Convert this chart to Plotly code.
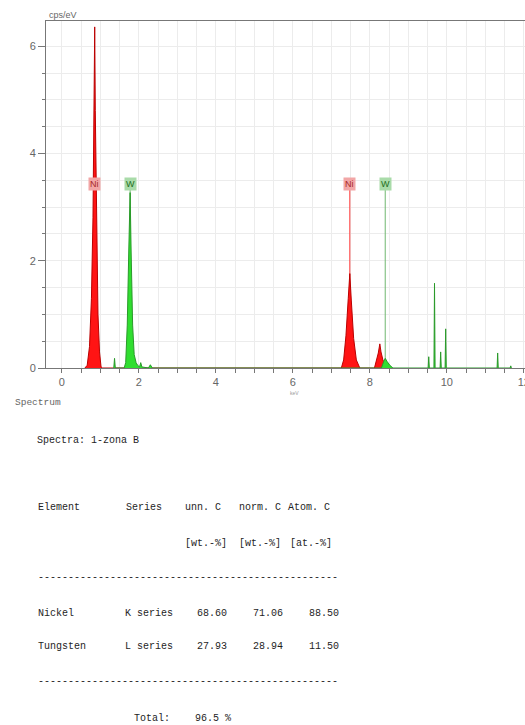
import plotly.graph_objects as go

# ---------------- data ----------------
ni_energy = [0.60, 0.66, 0.72, 0.77, 0.81, 0.84, 0.855, 0.87, 0.90, 0.94, 0.98, 1.02, 1.06,
             7.26, 7.32, 7.38, 7.44, 7.48, 7.52, 7.58, 7.65, 7.74,
             8.12, 8.17, 8.22, 8.26, 8.29, 8.34, 8.42, 8.48]
ni_counts = [0.0, 0.05, 0.40, 1.30, 2.80, 4.80, 6.36, 4.80, 2.60, 1.00, 0.30, 0.02, 0.0,
             0.0, 0.15, 0.60, 1.30, 1.76, 1.25, 0.55, 0.15, 0.0,
             0.0, 0.12, 0.28, 0.45, 0.30, 0.15, 0.04, 0.0]

w_energy = [1.35, 1.37, 1.39,
            1.62, 1.66, 1.70, 1.74, 1.775, 1.80, 1.84, 1.88, 1.93, 1.97, 2.02, 2.05, 2.08, 2.25, 2.30, 2.35,
            8.30, 8.36, 8.40, 8.45, 8.52, 8.60,
            9.515, 9.53, 9.545, 9.665, 9.68, 9.695, 9.825, 9.84, 9.855, 9.955, 9.97, 9.985,
            11.305, 11.32, 11.335, 11.645, 11.66, 11.675]
w_counts = [0.0, 0.18, 0.0,
            0.0, 0.10, 0.80, 2.20, 3.27, 2.20, 0.80, 0.25, 0.10, 0.05, 0.02, 0.10, 0.02, 0.0, 0.06, 0.0,
            0.0, 0.12, 0.18, 0.12, 0.05, 0.0,
            0.0, 0.21, 0.0, 0.0, 1.58, 0.0, 0.0, 0.30, 0.0, 0.0, 0.73, 0.0,
            0.0, 0.28, 0.0, 0.0, 0.04, 0.0]

label_names = ["Ni", "W", "Ni", "W"]
label_energy = [0.855, 1.775, 7.48, 8.40]
label_height = 3.44

x_ticks = [0, 2, 4, 6, 8, 10, 12]
y_ticks = [0, 2, 4, 6]

spectrum_title = "Spectra: 1-zona B"
hdr1 = ["Element", "Series", "unn. C", "norm. C", "Atom. C"]
hdr2 = ["[wt.-%]", "[wt.-%]", "[at.-%]"]
elements = ["Nickel", "Tungsten"]
series = ["K series", "L series"]
unn_c = [68.60, 27.93]
norm_c = [71.06, 28.94]
atom_c = [88.50, 11.50]
total = 96.5

# ---------------- style ----------------
W_PX, H_PX = 525, 725
L, R, T, B = 46, 0, 21, 357.4
plot_w = W_PX - L - R
plot_h = H_PX - T - B

def px(x):
    return (x - L) / plot_w

def py(y):
    return (H_PX - B - y) / plot_h

col = {"Ni": dict(line="#bb0000", fill="#ff1414", lab_bg="#f2a6a6", lab_fg="#a82828", mark="#ff3b3b"),
       "W": dict(line="#2a9a2a", fill="#30de30", lab_bg="#a9dba9", lab_fg="#1e6e1e", mark="#6fb86f")}

fig = go.Figure()

# label marker lines (beneath the peaks)
for name, e in zip(label_names, label_energy):
    fig.add_trace(go.Scatter(x=[e, e], y=[0, label_height - 0.12], mode="lines",
                             line=dict(color=col[name]["mark"], width=1),
                             hoverinfo="skip", showlegend=False))

fig.add_trace(go.Scatter(x=ni_energy, y=ni_counts, mode="lines", fill="tozeroy",
                         line=dict(color=col["Ni"]["line"], width=1),
                         fillcolor=col["Ni"]["fill"], showlegend=False))
fig.add_trace(go.Scatter(x=w_energy, y=w_counts, mode="lines", fill="tozeroy",
                         line=dict(color=col["W"]["line"], width=1),
                         fillcolor=col["W"]["fill"], showlegend=False))

annotations = []
for name, e in zip(label_names, label_energy):
    annotations.append(dict(x=e, y=label_height, xref="x", yref="y", text=name,
                            showarrow=False, bgcolor=col[name]["lab_bg"],
                            font=dict(family="Liberation Sans, Arial", size=9, color=col[name]["lab_fg"]),
                            borderpad=1))

grey = "#666666"
annotations.append(dict(x=px(47), y=py(15), xref="paper", yref="paper", text="cps/eV",
                        xanchor="left", yanchor="middle", showarrow=False,
                        font=dict(family="Liberation Sans, Arial", size=9, color=grey)))
annotations.append(dict(x=px(13), y=py(402), xref="paper", yref="paper", text="Spectrum",
                        xanchor="left", yanchor="middle", showarrow=False,
                        font=dict(family="Liberation Mono, monospace", size=9.5, color=grey)))
annotations.append(dict(x=px(294), y=py(393), xref="paper", yref="paper", text="keV",
                        xanchor="center", yanchor="middle", showarrow=False,
                        font=dict(family="Liberation Sans, Arial", size=5, color="#999999")))

mono = dict(family="Liberation Mono, Courier New, monospace", size=10, color="#1e1e1e")

def txt(x, y, s, anchor="left"):
    annotations.append(dict(x=px(x), y=py(y), xref="paper", yref="paper", text=s,
                            xanchor=anchor, yanchor="middle", showarrow=False, font=mono))

txt(35, 440, spectrum_title)
for s, x in zip(hdr1, [36, 124, 183, 237, 286]):
    txt(x, 507, s)
for s, x in zip(hdr2, [183, 237, 288]):
    txt(x, 543, s)
dashes = "-" * 50
txt(36, 577, dashes)
for i, yy in enumerate([613, 646]):
    txt(36, yy, elements[i])
    txt(123, yy, series[i])
    txt(229, yy, f"{unn_c[i]:.2f}", "right")
    txt(285, yy, f"{norm_c[i]:.2f}", "right")
    txt(341, yy, f"{atom_c[i]:.2f}", "right")
txt(36, 681, dashes)
txt(132, 718, "Total:")
txt(193, 718, f"{total} %")

fig.update_layout(
    width=W_PX, height=H_PX,
    margin=dict(l=L, r=R, t=T, b=B, autoexpand=False),
    paper_bgcolor="white", plot_bgcolor="white",
    annotations=annotations,
    xaxis=dict(range=[-0.41, 12.03], tickvals=x_ticks, ticktext=[str(v) for v in x_ticks],
               showgrid=True, gridcolor="#ececec", gridwidth=1,
               showline=True, linecolor="#777777", linewidth=1, mirror=True,
               ticks="outside", ticklen=4, tickcolor="#777777",
               minor=dict(dtick=0.5, showgrid=True, gridcolor="#ececec", ticks="outside",
                          ticklen=4, tickcolor="#777777"),
               tickfont=dict(family="Liberation Sans, Arial", size=11, color=grey),
               ticklabeloverflow="allow",
               zeroline=False, automargin=False, fixedrange=True),
    yaxis=dict(range=[0, 6.47], tickvals=y_ticks, ticktext=[str(v) for v in y_ticks],
               showgrid=True, gridcolor="#ececec", gridwidth=1,
               showline=True, linecolor="#777777", linewidth=1,
               ticks="outside", ticklen=7, tickcolor="#777777",
               minor=dict(dtick=0.5, showgrid=True, gridcolor="#ececec", ticks="outside",
                          ticklen=3, tickcolor="#777777"),
               tickfont=dict(family="Liberation Sans, Arial", size=11, color=grey),
               zeroline=False, automargin=False, fixedrange=True),
)

fig.write_html("out.html", config={"displayModeBar": False})
